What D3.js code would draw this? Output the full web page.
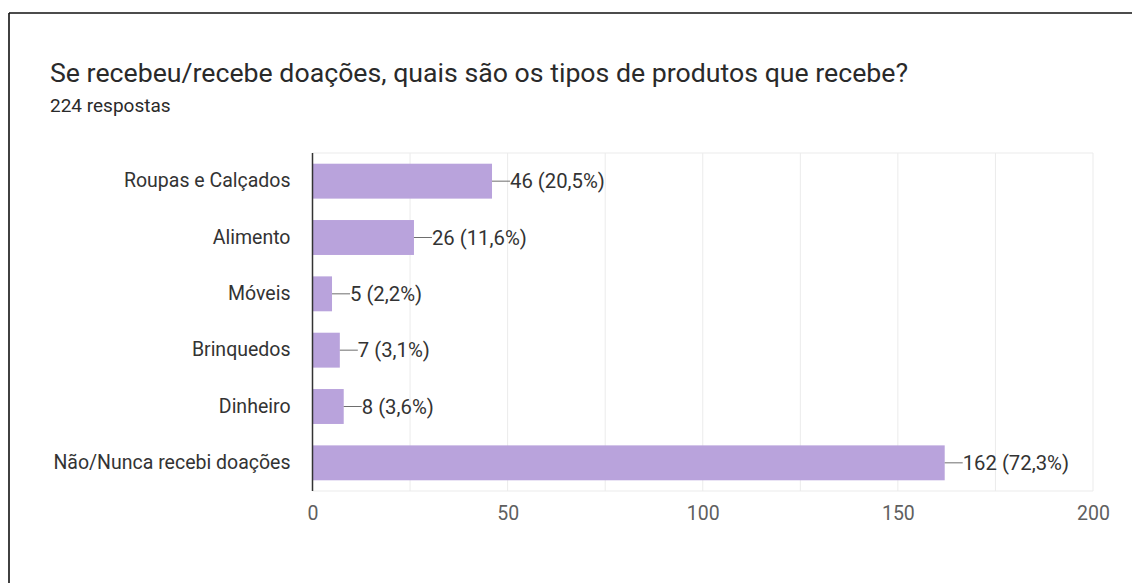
<!DOCTYPE html>
<html>
<head>
<meta charset="utf-8">
<script src="https://cdn.jsdelivr.net/npm/d3@7"></script>
<style>
  html, body { margin: 0; padding: 0; background: #fff; }
  svg { display: block; font-family: Roboto, "Noto Sans", Arial, sans-serif; }
</style>
</head>
<body>
<svg id="chart" width="1132" height="583"></svg>
<script>
const title = "Se recebeu/recebe doações, quais são os tipos de produtos que recebe?";
const subtitle = "224 respostas";
const categories = ["Roupas e Calçados", "Alimento", "Móveis", "Brinquedos", "Dinheiro", "Não/Nunca recebi doações"];
const values = [46, 26, 5, 7, 8, 162];
const percentLabels = ["20,5%", "11,6%", "2,2%", "3,1%", "3,6%", "72,3%"];
const xTicks = [0, 50, 100, 150, 200];
const gridTicks = [0, 25, 50, 75, 100, 125, 150, 175, 200];

const svg = d3.select("#chart");

// frame
svg.append("line").attr("x1", 9).attr("x2", 1132).attr("y1", 13).attr("y2", 13)
  .attr("stroke", "#111").attr("stroke-width", 1.6);
svg.append("line").attr("x1", 9).attr("x2", 9).attr("y1", 13).attr("y2", 583)
  .attr("stroke", "#111").attr("stroke-width", 1.6);

svg.append("text").attr("x", 50).attr("y", 82).attr("font-size", 26.7)
  .attr("fill", "#2a2a2a").text(title);
svg.append("text").attr("x", 50).attr("y", 112).attr("font-size", 19)
  .attr("fill", "#2a2a2a").text(subtitle);

const pLeft = 312.5, pRight = 1093, pTop = 153, pBottom = 491;
const x = d3.scaleLinear().domain([0, 200]).range([pLeft, pRight]);
const y = d3.scaleBand().domain(categories).range([pTop, pBottom]).paddingInner(0.38).paddingOuter(0.19);

// grid
svg.append("g").selectAll("line").data(gridTicks).join("line")
  .attr("x1", d => x(d)).attr("x2", d => x(d)).attr("y1", pTop).attr("y2", pBottom)
  .attr("stroke", "#ebebeb").attr("stroke-width", 1);
svg.append("line").attr("x1", pLeft).attr("x2", pRight).attr("y1", pTop).attr("y2", pTop)
  .attr("stroke", "#ebebeb");
svg.append("line").attr("x1", pLeft).attr("x2", pRight).attr("y1", pBottom).attr("y2", pBottom)
  .attr("stroke", "#ebebeb");

// bars
svg.append("g").selectAll("rect").data(values).join("rect")
  .attr("x", x(0)).attr("y", (d, i) => y(categories[i]))
  .attr("width", d => x(d) - x(0)).attr("height", y.bandwidth())
  .attr("fill", "#b9a3dc");

// leader lines + labels
const lab = svg.append("g");
values.forEach((v, i) => {
  const cy = y(categories[i]) + y.bandwidth() / 2;
  lab.append("line").attr("x1", x(v)).attr("x2", x(v) + 18).attr("y1", cy).attr("y2", cy)
    .attr("stroke", "#6e6e6e").attr("stroke-width", 1);
  lab.append("text").attr("x", x(v) + 18).attr("y", cy).attr("dy", "0.35em")
    .attr("font-size", 20.3).attr("fill", "#333")
    .text(`${v} (${percentLabels[i]})`);
});

// y axis
const yAxis = d3.axisLeft(y).tickSize(0).tickPadding(22);
const yg = svg.append("g").attr("transform", `translate(${pLeft},0)`).call(yAxis);
yg.select(".domain").remove();
yg.selectAll("text").attr("font-size", 19.5).attr("fill", "#333").attr("font-family", "Roboto, sans-serif");
svg.append("line").attr("x1", pLeft).attr("x2", pLeft).attr("y1", pTop).attr("y2", pBottom)
  .attr("stroke", "#333").attr("stroke-width", 1.5);

// x axis
const xAxis = d3.axisBottom(x).tickValues(xTicks).tickSize(0).tickPadding(15);
const xg = svg.append("g").attr("transform", `translate(0,${pBottom})`).call(xAxis);
xg.select(".domain").remove();
xg.selectAll("text").attr("font-size", 19.5).attr("fill", "#5f5f5f").attr("font-family", "Roboto, sans-serif");
</script>
</body>
</html>
